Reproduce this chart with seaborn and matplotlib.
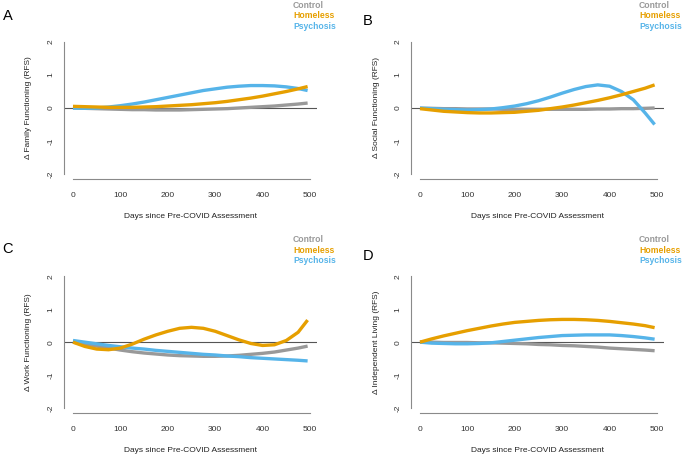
import numpy as np
import pandas as pd
import matplotlib
matplotlib.use("Agg")
import matplotlib.pyplot as plt
import seaborn as sns

# ---------------- data ----------------
days = [0, 25, 50, 75, 100, 125, 150, 175, 200, 225, 250, 275, 300, 325,
        350, 375, 400, 425, 450, 475, 495]

groups = ["Control", "Homeless", "Psychosis"]
group_colors = {"Control": "#999999", "Homeless": "#E69F00", "Psychosis": "#56B4E9"}

# Panel A: Family Functioning
fam_control = [0.0, -0.01, -0.02, -0.03, -0.04, -0.05, -0.05, -0.06, -0.06, -0.06, -0.05,
               -0.04, -0.03, -0.02, 0.0, 0.02, 0.04, 0.06, 0.09, 0.12, 0.15]
fam_homeless = [0.05, 0.04, 0.03, 0.02, 0.02, 0.02, 0.03, 0.04, 0.06, 0.08, 0.10,
                0.13, 0.16, 0.20, 0.25, 0.30, 0.36, 0.43, 0.50, 0.58, 0.65]
fam_psychosis = [0.0, -0.01, 0.0, 0.03, 0.07, 0.12, 0.18, 0.25, 0.32, 0.39, 0.46,
                 0.53, 0.58, 0.63, 0.66, 0.68, 0.68, 0.67, 0.64, 0.59, 0.53]

# Panel B: Social Functioning
soc_control = [-0.01, -0.01, -0.02, -0.02, -0.03, -0.03, -0.03, -0.04, -0.04, -0.04, -0.04,
               -0.04, -0.04, -0.04, -0.04, -0.03, -0.03, -0.02, -0.02, -0.01, 0.0]
soc_homeless = [-0.02, -0.06, -0.10, -0.12, -0.14, -0.15, -0.15, -0.14, -0.13, -0.10, -0.07,
                -0.02, 0.03, 0.09, 0.16, 0.23, 0.31, 0.40, 0.50, 0.60, 0.70]
soc_psychosis = [0.0, -0.02, -0.04, -0.05, -0.06, -0.05, -0.03, 0.01, 0.06, 0.13, 0.22,
                 0.33, 0.45, 0.56, 0.65, 0.70, 0.66, 0.50, 0.25, -0.15, -0.50]

# Panel C: Work Functioning
work_control = [0.0, -0.06, -0.12, -0.18, -0.24, -0.29, -0.33, -0.36, -0.39, -0.41, -0.42,
                -0.43, -0.43, -0.42, -0.40, -0.37, -0.34, -0.30, -0.24, -0.18, -0.12]
work_homeless = [0.0, -0.13, -0.21, -0.23, -0.18, -0.06, 0.09, 0.22, 0.33, 0.42, 0.45,
                 0.42, 0.33, 0.20, 0.07, -0.04, -0.10, -0.08, 0.05, 0.30, 0.67]
work_psychosis = [0.05, 0.0, -0.05, -0.10, -0.14, -0.18, -0.21, -0.25, -0.28, -0.31, -0.34,
                  -0.37, -0.39, -0.42, -0.44, -0.47, -0.49, -0.51, -0.53, -0.55, -0.57]

# Panel D: Independent Living
ind_control = [0.0, 0.0, -0.01, -0.01, -0.01, -0.02, -0.02, -0.03, -0.04, -0.05, -0.07,
               -0.08, -0.10, -0.11, -0.13, -0.15, -0.18, -0.20, -0.22, -0.24, -0.26]
ind_homeless = [0.0, 0.10, 0.19, 0.27, 0.35, 0.42, 0.49, 0.55, 0.60, 0.63, 0.66,
                0.68, 0.69, 0.69, 0.68, 0.66, 0.63, 0.59, 0.55, 0.50, 0.44]
ind_psychosis = [0.0, -0.03, -0.04, -0.05, -0.05, -0.04, -0.02, 0.02, 0.06, 0.10, 0.14,
                 0.17, 0.20, 0.21, 0.22, 0.22, 0.22, 0.20, 0.17, 0.13, 0.09]

x_ticks = [0, 100, 200, 300, 400, 500]
y_ticks = [-2, -1, 0, 1, 2]
x_label = "Days since Pre-COVID Assessment"

panels = [
    ("A", "Δ Family Functioning (RFS)", fam_control, fam_homeless, fam_psychosis),
    ("B", "Δ Social Functioning (RFS)", soc_control, soc_homeless, soc_psychosis),
    ("C", "Δ Work Functioning (RFS)", work_control, work_homeless, work_psychosis),
    ("D", "Δ Independent Living (RFS)", ind_control, ind_homeless, ind_psychosis),
]

# ---------------- layout ----------------
sns.set_style("white")
plt.rcParams["font.family"] = ["Liberation Sans", "DejaVu Sans"]

W, H = 683, 457
fig = plt.figure(figsize=(W / 100, H / 100), dpi=100)

# axes rectangles (pixels: left, top, right, bottom)
rects = [
    (63.6, 36.7, 317.0, 179.3),
    (410.6, 36.7, 664.0, 179.3),
    (63.6, 271.0, 317.0, 413.3),
    (410.6, 271.0, 664.0, 413.3),
]
letter_pos = [(7.5, 16.5), (368, 21), (7.5, 249), (368, 256)]
legend_pos = [(293, 5.5), (639, 5.5), (293, 240), (639, 240)]

draw_order = ["Control", "Psychosis", "Homeless"]

for i, (letter, ylab, c, h, p) in enumerate(panels):
    l, t, r, b = rects[i]
    ax = fig.add_axes([l / W, 1 - b / H, (r - l) / W, (b - t) / H])
    df = pd.DataFrame({
        "day": days * 3,
        "value": c + h + p,
        "group": ["Control"] * len(days) + ["Homeless"] * len(days) + ["Psychosis"] * len(days),
    })
    ax.axhline(0, color="#555555", lw=0.8, zorder=1)
    sns.lineplot(data=df, x="day", y="value", hue="group", hue_order=draw_order,
                 palette=group_colors, lw=2.4, ax=ax, legend=False, zorder=3,
                 solid_capstyle="butt")
    ax.set_xlim(-19.8, 514.8)
    ax.set_ylim(-2.16, 2.16)
    ax.set_xticks(x_ticks)
    ax.set_yticks(y_ticks)
    ax.set_xticklabels([str(v) for v in x_ticks])
    ax.set_yticklabels([str(v) for v in y_ticks], rotation=90, va="center")
    for s in ["top", "right"]:
        ax.spines[s].set_visible(False)
    for s in ["left", "bottom"]:
        ax.spines[s].set_color("#8a8a8a")
        ax.spines[s].set_linewidth(0.8)
    ax.spines["left"].set_bounds(-2, 2)
    ax.spines["bottom"].set_bounds(0, 500)
    ax.tick_params(axis="both", length=4, width=0.8, color="#8a8a8a",
                   labelsize=6, labelcolor="#333333")
    ax.tick_params(axis="x", pad=5.5)
    ax.tick_params(axis="y", pad=2.5)
    ax.set_xlabel(x_label, fontsize=6, color="#222222")
    ax.set_ylabel(ylab, fontsize=6, color="#222222")
    ax.xaxis.label.set_va("center")
    ax.xaxis.set_label_coords(0.5, -(216 - 179.3) / (b - t))
    ax.yaxis.label.set_va("center")
    ax.yaxis.set_label_coords(-(l - 29 - (l - 63.6)) / (r - l) if False else -(63.6 - 29) / (r - l), 0.5)
    ax.grid(False)
    ax.set_facecolor("white")

    lx, ly = letter_pos[i]
    fig.text(lx / W, 1 - ly / H, letter, fontsize=10.5, ha="center", va="center", color="black")

    gx, gy = legend_pos[i]
    for k, g in enumerate(groups):
        fig.text(gx / W, 1 - (gy + k * 10.3) / H, g, fontsize=6.2, fontweight="bold",
                 color=group_colors[g], ha="left", va="center")

fig.savefig("out.png", dpi=100, facecolor="white")
